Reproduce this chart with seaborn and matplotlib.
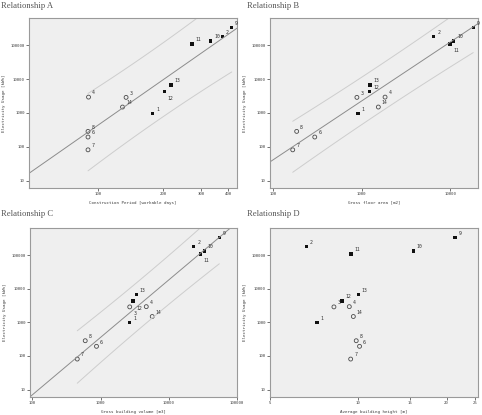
import numpy as np
import pandas as pd
import seaborn as sns
import matplotlib.pyplot as plt
from matplotlib.ticker import FixedLocator, FixedFormatter, NullLocator

# building ids and electricity usage (kWh)
building = [1, 2, 3, 4, 6, 7, 8, 9, 10, 11, 12, 13, 14]
usage = [980, 185000, 2900, 2950, 194, 81, 285, 335000, 134000, 110000, 4300, 6800, 1500]
filled = [1, 1, 0, 0, 0, 0, 0, 1, 1, 1, 1, 1, 0]

# predictors
period = [179, 376, 135, 90.5, 90, 90, 90, 416, 332, 272, 203, 218, 130]
floor_area = [910, 6530, 885, 1840, 296, 167, 185, 18200, 10900, 9900, 1230, 1250, 1545]
volume = [2670, 23200, 2670, 4670, 869, 454, 594, 55000, 33100, 29000, 2980, 3330, 5710]
height = [7.23, 6.65, 8.26, 9.32, 10.1, 9.42, 9.84, 21.4, 15.4, 9.44, 8.8, 10.0, 9.62]

# labels drawn below-right of the point instead of above-right
below = {'A': [12], 'B': [11], 'C': [11, 12, 3], 'D': []}

df = pd.DataFrame({'id': building, 'usage': usage, 'filled': filled,
                   'period': period, 'area': floor_area, 'volume': volume, 'height': height})

sns.set_style('white', {'axes.facecolor': '#efefef', 'axes.edgecolor': '#9a9a9a'})
plt.rcParams['font.family'] = ['DejaVu Sans Mono']

fig = plt.figure(figsize=(4.82, 4.15), dpi=100)

panels = [
    ('A', 'period', 'Construction Period [workable days]', (48, 440), [100, 200, 300, 400], True,
     [29 / 482, 1 - 188 / 415, 208 / 482, 170 / 415]),
    ('B', 'area', 'Gross floor area [m2]', (92.5, 20600), [100, 1000, 10000], True,
     [270 / 482, 1 - 188 / 415, 208 / 482, 170 / 415]),
    ('C', 'volume', 'Gross building volume [m3]', (92, 100000), [100, 1000, 10000, 100000], True,
     [30 / 482, 1 - 397 / 415, 207 / 482, 169 / 415]),
    ('D', 'height', 'Average building height [m]', (5.0, 25.6), [5, 10, 15, 20, 25], False,
     [270 / 482, 1 - 397 / 415, 208 / 482, 169 / 415]),
]

t_crit = 2.201  # t(0.975, 11)

for name, col, xlabel, xlim, xticks, with_fit, rect in panels:
    ax = fig.add_axes(rect)
    ax.set_xscale('log')
    ax.set_yscale('log')

    if with_fit:
        lx = np.log10(df[col].values)
        ly = np.log10(df['usage'].values)
        n = len(lx)
        b, a = np.polyfit(lx, ly, 1)
        s = np.sqrt(np.sum((ly - (a + b * lx)) ** 2) / (n - 2))
        sxx = np.sum((lx - lx.mean()) ** 2)
        xf = np.linspace(np.log10(xlim[0]), np.log10(xlim[1]), 50)
        sns.lineplot(x=10 ** xf, y=10 ** (a + b * xf), color='#8c8c8c', lw=0.7, ax=ax)
        xb = np.linspace(lx.min(), lx.max(), 50)
        half = t_crit * s * np.sqrt(1 + 1 / n + (xb - lx.mean()) ** 2 / sxx)
        for sign in (1, -1):
            sns.lineplot(x=10 ** xb, y=10 ** (a + b * xb + sign * half), color='#cdcdcd', lw=0.7, ax=ax)

    sns.scatterplot(data=df[df.filled == 1], x=col, y='usage', marker='s', s=6,
                    color='#111111', edgecolor='none', ax=ax)
    sns.scatterplot(data=df[df.filled == 0], x=col, y='usage', marker='o', s=8,
                    facecolor='none', edgecolor='#4a4a4a', linewidth=0.6, ax=ax)

    for _, r in df.iterrows():
        dy = -5 if r['id'] in below[name] else 3
        ax.annotate(str(int(r['id'])), (r[col], r['usage']), xytext=(2.5, dy),
                    textcoords='offset points', fontsize=3.5, color='#333333',
                    va='center', ha='left')

    ax.set_xlim(*xlim)
    ax.set_ylim(6, 650000)
    ax.xaxis.set_major_locator(FixedLocator(xticks))
    ax.xaxis.set_major_formatter(FixedFormatter([str(v) for v in xticks]))
    ax.xaxis.set_minor_locator(NullLocator())
    yt = [10, 100, 1000, 10000, 100000]
    ax.yaxis.set_major_locator(FixedLocator(yt))
    ax.yaxis.set_major_formatter(FixedFormatter([str(v) for v in yt]))
    ax.yaxis.set_minor_locator(NullLocator())
    ax.tick_params(axis='both', labelsize=2.9, colors='#3a3a3a', length=2, width=0.5,
                   direction='out', pad=1.2)
    ax.tick_params(left=True, bottom=True)
    for sp in ax.spines.values():
        sp.set_linewidth(0.8)
    ax.set_xlabel(xlabel, fontsize=3.0, color='#3a3a3a', labelpad=3)
    ax.set_ylabel('Electricity Usage [kWh]', fontsize=3.0, color='#3a3a3a', labelpad=3)
    if ax.get_legend() is not None:
        ax.get_legend().remove()

    tx = 1 / 482 if name in 'AC' else 247 / 482
    ty = 1 - 6 / 415 if name in 'AB' else 1 - 214 / 415
    fig.text(tx, ty, 'Relationship ' + name, family='Liberation Serif', fontsize=6.2,
             color='#555555', va='center', ha='left')

fig.savefig('out.png', dpi=100)
